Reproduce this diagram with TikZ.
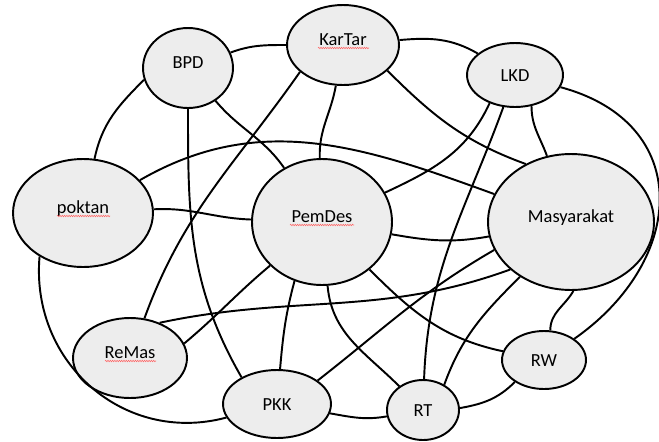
\documentclass[tikz,border=0pt]{standalone}
\usepackage{fontspec}
\setmainfont{Carlito}
\usetikzlibrary{shapes.geometric}
\usetikzlibrary{decorations.pathmorphing}

\definecolor{nodegray}{RGB}{237,237,237}

\begin{document}
\begin{tikzpicture}[x = 0.02cm, y = 0.02cm,
    place/.style = {ellipse, draw, fill = nodegray, line width = 1.1pt, inner sep = 0pt,
        font = \fontsize{10.5}{12}\selectfont, text height = 2.8mm, text depth = 0.4mm},
    lifted/.style = {text depth = 2.8mm},
    link/.style = {line width = 1.1pt},
    squiggle/.style = {red!60, line width = 0.3pt,
        decorate, decoration = {snake, segment length = 1.3pt, amplitude = 0.45pt}}]
        %   \draw [help lines] (0,0) grid (659,441);
        \useasboundingbox (0,0) rectangle (659,441);

        \node [place, lifted, minimum width = 1.8cm, minimum height = 1.6cm] (BPD) at (188,373) {BPD};
        \node [place, lifted, minimum width = 2.24cm, minimum height = 1.6cm] (KarTar) at (343,396) {KarTar};
        \node [place, minimum width = 1.92cm, minimum height = 1.28cm] (LKD) at (515,366) {LKD};
        \node [place, lifted, minimum width = 2.8cm, minimum height = 2.16cm] (poktan) at (83,228) {poktan};
        \node [place, lifted, minimum width = 2.8cm, minimum height = 2.52cm] (PemDes) at (322,219) {PemDes};
        \node [place, lifted, minimum width = 3.32cm, minimum height = 2.72cm] (Masyarakat) at (571,219) {Masyarakat};
        \node [place, lifted, minimum width = 2.28cm, minimum height = 1.6cm] (ReMas) at (130,83) {ReMas};
        \node [place, minimum width = 2.16cm, minimum height = 1.36cm] (PKK) at (277,37) {PKK};
        \node [place, minimum width = 1.44cm, minimum height = 1.2cm] (RT) at (423,31) {RT};
        \node [place, minimum width = 1.68cm, minimum height = 1.16cm] (RW) at (544,81) {RW};

        % spell check marks
        \draw [squiggle] ([shift={(-25,-3)}]KarTar.center) -- ++(51,0);
        \draw [squiggle] ([shift={(-32,-3)}]PemDes.center) -- ++(64,0);
        \draw [squiggle] ([shift={(-26,-3)}]poktan.center) -- ++(53,0);
        \draw [squiggle] ([shift={(-25,-3)}]ReMas.center) -- ++(51,0);

        % connectors
        \draw [link] (BPD) to [out = 20, in = 180] (KarTar);
        \draw [link] (BPD.195) to [out = 225, in = 78] (poktan);
        \draw [link] (BPD) to [out = 270, in = 120] (PKK.143);
        \draw [link] (BPD) to [out = -50, in = 125] (PemDes);

        \draw [link] (KarTar.212) to [out = 235, in = 70] (ReMas);
        \draw [link] (KarTar) to [out = 260, in = 92] (PemDes);
        \draw [link] (KarTar) to [out = 5, in = 150] (LKD);
        \draw [link] (KarTar.-30) to [out = -45, in = 160] (Masyarakat.128);

        \draw [link] (LKD.228) to [out = 245, in = 25] (PemDes);
        \draw [link] (LKD) to [out = 250, in = 88] (RT);
        \draw [link] (LKD.-62) to [out = 270, in = 110] (Masyarakat);
        \draw [link] (LKD) to [out = -15, in = 35, looseness = 1.4] (RW);

        \draw [link] (poktan) to [out = 30, in = 160] (Masyarakat);
        \draw [link] (poktan) to [out = 3, in = 178] (PemDes);
        \draw [link] (poktan.225) to [out = 265, in = 195, looseness = 1.1] (PKK);

        \draw [link] (PemDes.220) to [out = 220, in = 40] (ReMas.15);
        \draw [link] (PemDes) to [out = -10, in = 190] (Masyarakat);
        \draw [link] (PemDes.245) to [out = 255, in = 85] (PKK);
        \draw [link] (PemDes) to [out = -85, in = 135] (RT);
        \draw [link] (PemDes) to [out = -45, in = 168] (RW);

        \draw [link] (ReMas.50) to [out = 12, in = 200] (Masyarakat.218);
        \draw [link] (PKK.30) to [out = 38, in = 210] (Masyarakat.200);
        \draw [link] (PKK) to [out = -10, in = 190] (RT);
        \draw [link] (RT.50) to [out = 70, in = 225] (Masyarakat.227);
        \draw [link] (RT.3) to [out = 10, in = 225] (RW.217);
        \draw [link] (Masyarakat.-88) to [out = 240, in = 90] (RW.78);
    \end{tikzpicture}
\end{document}
